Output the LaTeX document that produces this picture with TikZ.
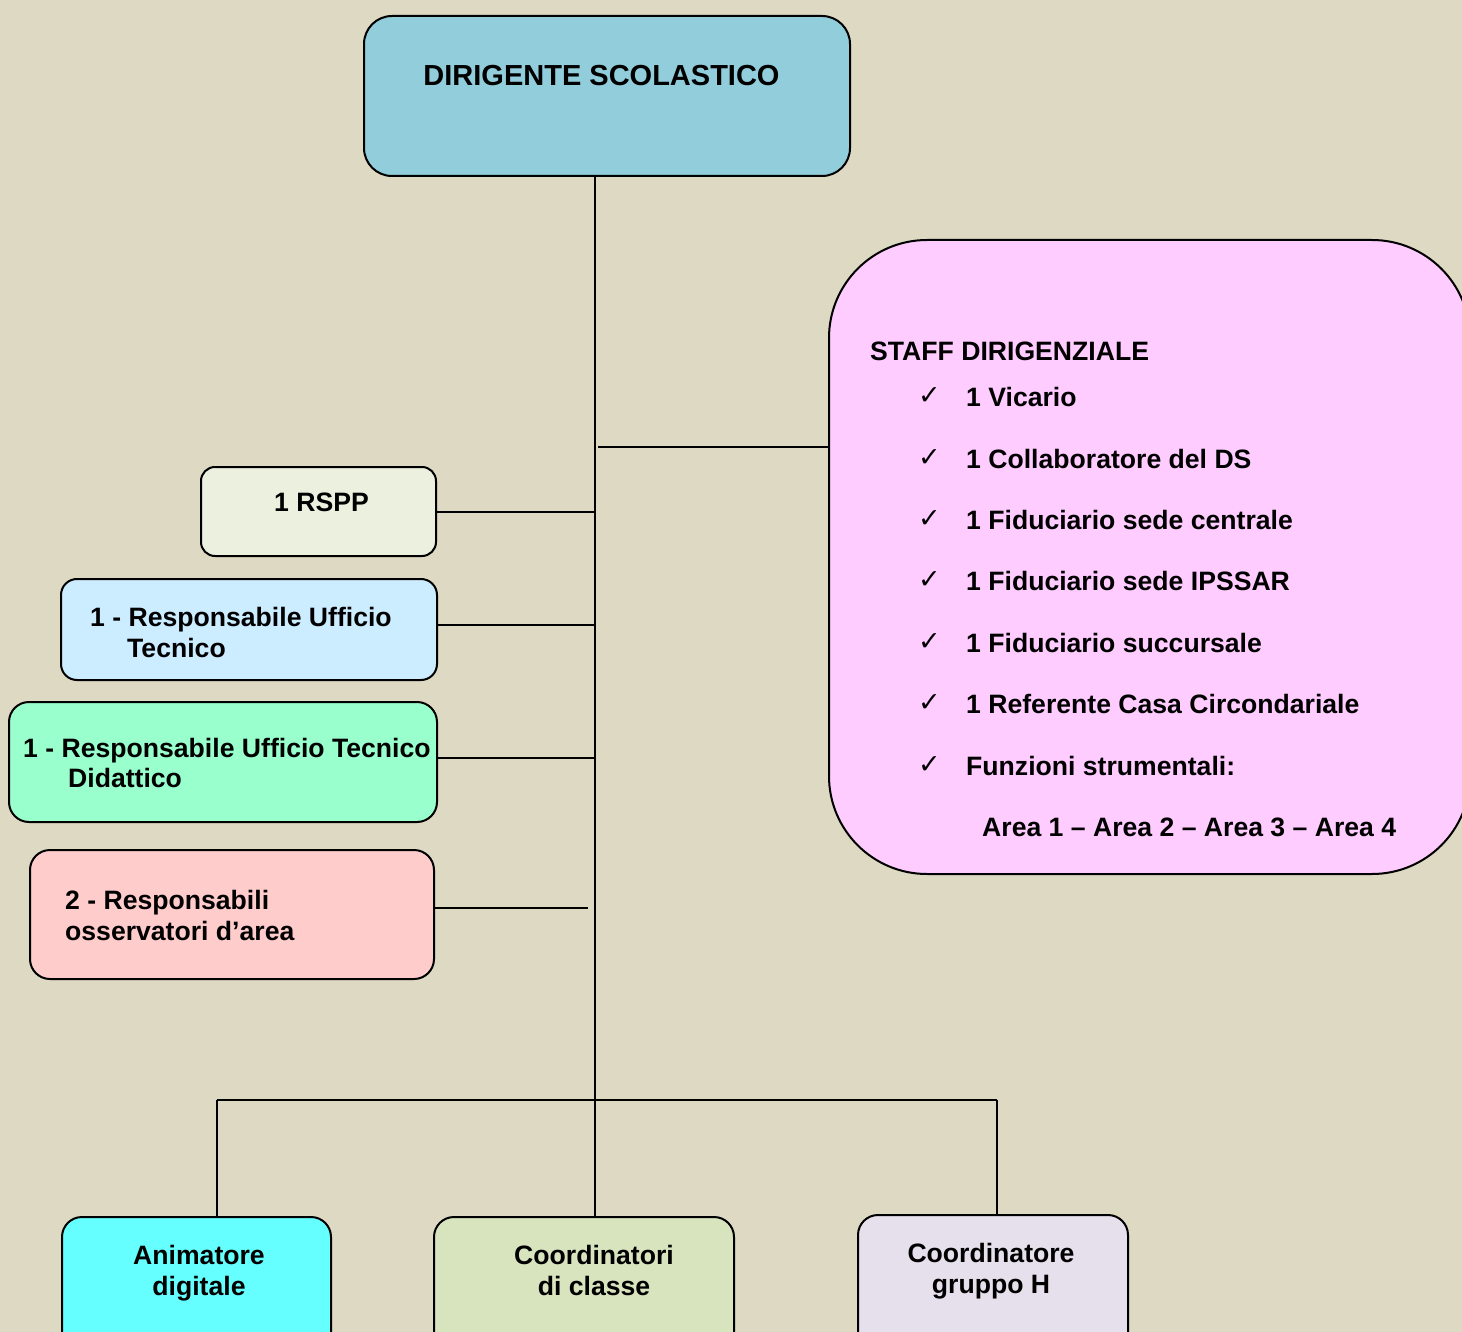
\documentclass[tikz,border=0pt]{standalone}
\usepackage{fontspec}
\setmainfont{Liberation Sans}
\newfontfamily\dejavu{DejaVu Sans}
\newcommand\fs{\fontsize{26.6}{31}\selectfont\bfseries}
\newcommand\fsbig{\fontsize{29}{33}\selectfont\bfseries}
\newcommand\ckfont{\fontsize{27}{30}\selectfont\dejavu}
\definecolor{bg}{RGB}{221,217,195}
\definecolor{dsc}{RGB}{146,205,220}
\definecolor{staffc}{RGB}{255,204,255}
\definecolor{rsppc}{RGB}{235,241,222}
\definecolor{rutc}{RGB}{204,236,255}
\definecolor{rutdc}{RGB}{153,255,204}
\definecolor{pinkc}{RGB}{255,204,204}
\definecolor{animc}{RGB}{102,255,255}
\definecolor{coordc}{RGB}{215,228,189}
\definecolor{grhc}{RGB}{229,224,236}
\begin{document}
\begin{tikzpicture}[x=1pt,y=-1pt,
  box/.style={draw=black, line width=2pt, rectangle, inner sep=0pt},
  conn/.style={draw=black, line width=2pt},
  txt/.style={anchor=base west, inner sep=0pt, font=\fs},
  ctxt/.style={anchor=base, inner sep=0pt, font=\fs},
  ck/.style={anchor=base west, inner sep=0pt, font=\ckfont}]
\useasboundingbox (0,0) rectangle (1462,1332);
\fill[bg] (0,0) rectangle (1462,1332);
\clip (0,0) rectangle (1462,1332);

% boxes
\node[box, fill=dsc, minimum width=486pt, minimum height=160pt, rounded corners=28pt] (ds) at (607,96) {};
\node[box, fill=staffc, minimum width=641pt, minimum height=634pt, rounded corners=98pt] (staff) at (1149.5,557) {};
\node[box, fill=rsppc, minimum width=235pt, minimum height=89pt, rounded corners=14pt] (rspp) at (318.5,511.5) {};
\node[box, fill=rutc, minimum width=376pt, minimum height=101pt, rounded corners=16pt] (rut) at (249,629.5) {};
\node[box, fill=rutdc, minimum width=428pt, minimum height=120pt, rounded corners=20pt] (rutd) at (223,762) {};
\node[box, fill=pinkc, minimum width=404pt, minimum height=129pt, rounded corners=20pt] (oss) at (232,914.5) {};
\node[box, fill=animc, minimum width=269pt, minimum height=140pt, rounded corners=20pt] (anim) at (196.5,1287) {};
\node[box, fill=coordc, minimum width=300pt, minimum height=140pt, rounded corners=20pt] (coord) at (584,1287) {};
\node[box, fill=grhc, minimum width=270pt, minimum height=140pt, rounded corners=20pt] (grh) at (993,1285) {};

% connectors
\coordinate (t) at (595,176);
\coordinate (sj) at (598,447);
\coordinate (bl) at (217,1100);
\coordinate (br) at (997,1100);
\draw[conn] (ds.south -| t) -- (t |- coord.north);
\draw[conn] (sj) -- (sj -| staff.west);
\draw[conn] (rspp.east) -- (rspp.east -| t);
\draw[conn] (rut.east |- 0,625) -- (t |- 0,625);
\draw[conn] (rutd.east |- 0,758) -- (t |- 0,758);
\draw[conn] (oss.east |- 0,908) -- (588,908);
\draw[conn] (bl) -- (br);
\draw[conn] (bl) -- (bl |- anim.north);
\draw[conn] (br) -- (br |- grh.north);

% texts
\node[anchor=base, inner sep=0pt, font=\fsbig] (tds) at (601.5,85.5) {DIRIGENTE SCOLASTICO};
\node[txt] (tst) at (870,360) {STAFF DIRIGENZIALE};
\node[ck] (k1) at (918,404) {✓};
\node[txt] (s1) at (966,406.5) {1 Vicario};
\node[ck] (k2) at (918,466) {✓};
\node[txt] (s2) at (966,468) {1 Collaboratore del DS};
\node[ck] (k3) at (918,527) {✓};
\node[txt] (s3) at (966,529.5) {1 Fiduciario sede centrale};
\node[ck] (k4) at (918,588) {✓};
\node[txt] (s4) at (966,590.5) {1 Fiduciario sede IPSSAR};
\node[ck] (k5) at (918,650) {✓};
\node[txt] (s5) at (966,652.5) {1 Fiduciario succursale};
\node[ck] (k6) at (918,711) {✓};
\node[txt] (s6) at (966,713.5) {1 Referente Casa Circondariale};
\node[ck] (k7) at (918,773) {✓};
\node[txt] (s7) at (966,775.5) {Funzioni strumentali:};
\node[txt] (s8) at (982,836.5) {Area 1 – Area 2 – Area 3 – Area 4};

\node[ctxt] (t1) at (321.5,511) {1 RSPP};
\node[txt] (t2a) at (90,626.5) {1 - Responsabile Ufficio};
\node[txt] (t2b) at (127,657.5) {Tecnico};
\node[txt] (t3a) at (23,757.5) {1 - Responsabile Ufficio Tecnico};
\node[txt] (t3b) at (68,787.5) {Didattico};
\node[txt] (t4a) at (65,909.5) {2 - Responsabili};
\node[txt] (t4b) at (65,940.5) {osservatori d’area};

\node[ctxt] (t5a) at (199,1264.5) {Animatore};
\node[ctxt] (t5b) at (199,1295.5) {digitale};
\node[ctxt] (t6a) at (594,1264.5) {Coordinatori};
\node[ctxt] (t6b) at (594,1295.5) {di classe};
\node[ctxt] (t7a) at (991,1262.5) {Coordinatore};
\node[ctxt] (t7b) at (991,1293.5) {gruppo H};
\end{tikzpicture}
\end{document}
